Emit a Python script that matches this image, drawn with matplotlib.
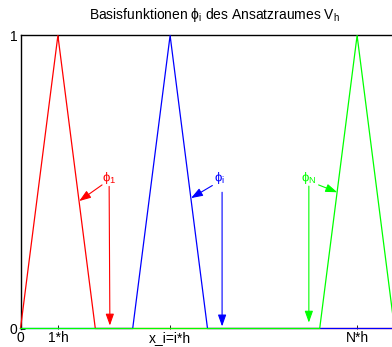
import matplotlib
matplotlib.use("Agg")
import matplotlib.pyplot as plt

plt.rcParams['font.family'] = ['Liberation Sans', 'DejaVu Sans']
plt.rcParams['mathtext.fontset'] = 'custom'
plt.rcParams['mathtext.rm'] = 'Liberation Sans'
plt.rcParams['mathtext.it'] = 'Liberation Sans:italic'

# grid nodes in units of h, and nodal values of the hat functions
nodes = [0, 1, 2, 3, 4, 5, 6, 7, 8, 9, 10]
phi_1 = [0, 1, 0, 0, 0, 0, 0, 0, 0, 0, 0]
phi_i = [0, 0, 0, 0, 1, 0, 0, 0, 0, 0, 0]
phi_N = [0, 0, 0, 0, 0, 0, 0, 0, 0, 1, 0]

xtick_pos = [0, 1, 4, 9]
xtick_labels = ['0', '1*h', 'x_i=i*h', 'N*h']
ytick_pos = [0, 1]

# label text, text anchor, (arrow tail, tip) for the slanted and vertical arrows
labels = [
    (r'$\mathregular{\phi_1}$', 'red', (2.17, 0.515),
     ((2.18, 0.49), (1.57, 0.435)), ((2.37, 0.485), (2.39, 0.01))),
    (r'$\mathregular{\phi_i}$', 'blue', (5.17, 0.515),
     ((5.13, 0.488), (4.56, 0.445)), ((5.39, 0.465), (5.39, 0.007))),
    (r'$\mathregular{\phi_N}$', (0, 1, 0), (7.49, 0.515),
     ((7.97, 0.49), (8.47, 0.465)), ((7.71, 0.486), (7.71, 0.02))),
]

W, H = 392, 347
fig = plt.figure(figsize=(W / 100, H / 100), dpi=100)
# half-pixel offset keeps the y=0 segments on a single pixel row
ax = fig.add_axes([20.5 / W, 18.5 / H, 374 / W, 293 / H])

LW = 0.9
ax.plot(nodes, phi_1, color='red', lw=LW, clip_on=False, zorder=3)
ax.plot(nodes, phi_i, color='blue', lw=LW, clip_on=False, zorder=3)
ax.plot(nodes, phi_N, color=(0, 1, 0), lw=LW, clip_on=False, zorder=3)

for text, col, tpos, diag, vert in labels:
    ax.text(tpos[0], tpos[1], text, color=col, fontsize=9.5,
            ha='left', va='center')
    for tail, tip in (diag, vert):
        ax.annotate('', xy=tip, xytext=tail,
                    arrowprops=dict(arrowstyle='-|>,head_length=0.7,head_width=0.25',
                                    mutation_scale=10, color=col, lw=0.8,
                                    shrinkA=0, shrinkB=0))

ax.set_xlim(0, 10)
ax.set_ylim(0, 1)
ax.set_xticks(xtick_pos)
ax.set_xticklabels(xtick_labels)
ax.set_yticks(ytick_pos)
ax.tick_params(direction='in', length=3, width=0.6, labelsize=10,
               top=True, right=False, pad=2)
for s in ax.spines.values():
    s.set_linewidth(1.0)
    s.set_zorder(1)
# the zero segments of the hat functions run along the bottom edge
ax.spines['bottom'].set_visible(False)
ax.spines['right'].set_visible(False)

fig.text(215 / W, 1 - 19 / H,
         r'Basisfunktionen $\mathregular{\phi_i}$ des Ansatzraumes V$\mathregular{_h}$',
         ha='center', va='baseline', fontsize=10)

fig.savefig('out.png', dpi=100)
